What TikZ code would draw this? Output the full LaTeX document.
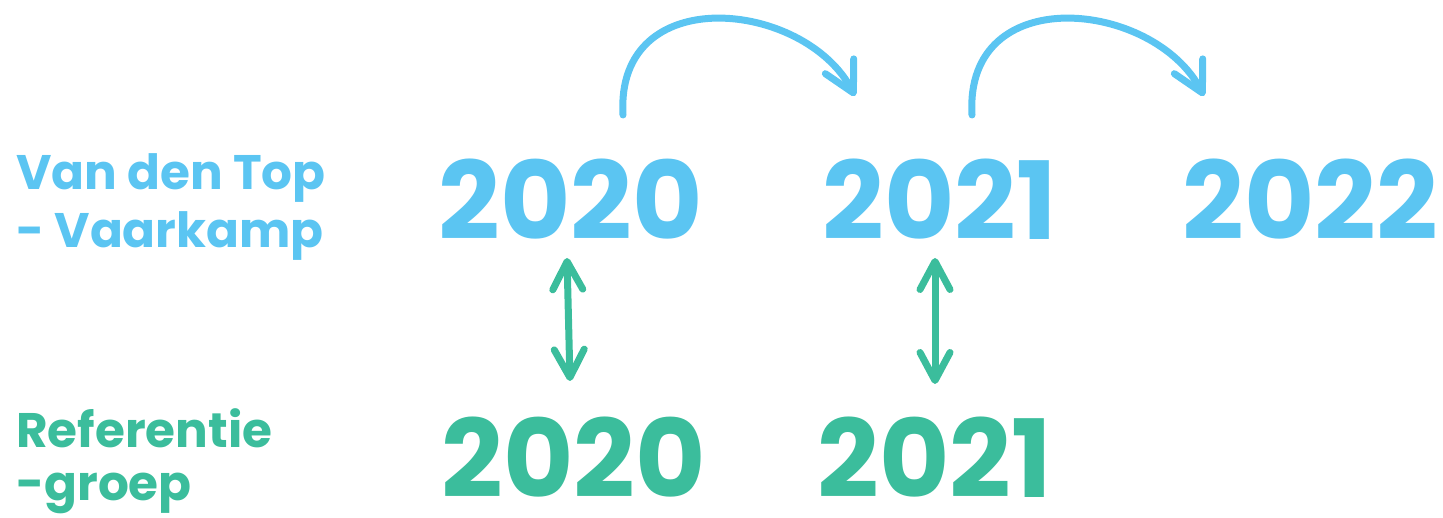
\documentclass[tikz,border=0pt]{standalone}
\usepackage{fontspec}
\setmainfont{Poppins}
\usetikzlibrary{arrows.meta}
\definecolor{tblue}{HTML}{5BC5F2}
\definecolor{tgreen}{HTML}{3BBD9C}
\begin{document}
\begin{tikzpicture}[x=1pt,y=-1pt,
  year/.style={inner sep=0pt, anchor=base west, text depth=0pt, font=\fontsize{108}{108}\selectfont\bfseries},
  lbl/.style={inner sep=0pt, anchor=base west, align=left},
  barrow/.style={tblue, line width=7pt, line cap=round, -{Straight Barb[length=30pt,width=32pt,round]}},
  garrow/.style={tgreen, line width=7pt, line cap=round, {Straight Barb[length=28pt,width=30pt,round]}-{Straight Barb[length=28pt,width=30pt,round]}}]
\useasboundingbox (0,0) rectangle (1443,518);
% left labels (anchor = baseline of last line)
\node[lbl, text=tblue, font=\fontsize{48.5}{58}\selectfont\bfseries] (lvdt) at (16,248) {Van den Top\\- Vaarkamp};
\node[lbl, text=tgreen, font=\fontsize{48.5}{53}\selectfont\bfseries] (lref) at (16,500) {Referentie\\-groep};
% years
\node[year, text=tblue] (t2020) at (438.5,240) {2020};
\node[year, text=tblue] (t2021) at (822.5,240) {2021};
\node[year, text=tblue] (t2022) at (1182.5,240) {2022};
\node[year, text=tgreen] (b2020) at (441.5,497) {2020};
\node[year, text=tgreen] (b2021) at (817.5,497) {2021};
% curved arrows
\coordinate (c1s) at (623,115);
\coordinate (c1e) at (855,96);
\coordinate (c2s) at (972,115);
\coordinate (c2e) at (1204,96);
\draw[barrow] (c1s) .. controls (615,-20) and (805,0) .. (c1e);
\draw[barrow] (c2s) .. controls (964,-20) and (1154,0) .. (c2e);
% double arrows
\coordinate (d1t) at (567,258);
\coordinate (d1b) at (570,381);
\coordinate (d2t) at (935,258);
\coordinate (d2b) at (935,384);
\draw[garrow] (d1t) -- (d1b);
\draw[garrow] (d2t) -- (d2b);
\end{tikzpicture}
\end{document}
